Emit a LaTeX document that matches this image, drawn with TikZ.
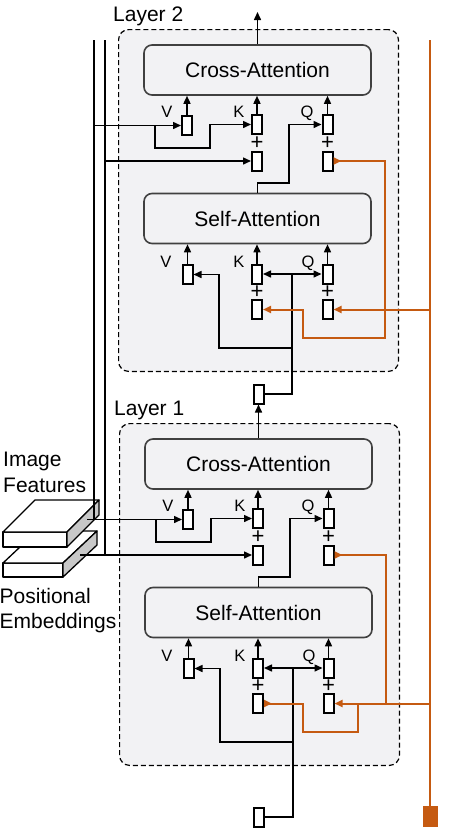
\documentclass[tikz,border=0pt]{standalone}
\usepackage{fontspec}
\setmainfont{Liberation Sans}
\usetikzlibrary{arrows.meta}

\definecolor{framefill}{HTML}{F2F2F4}
\definecolor{rust}{HTML}{C55A11}
\definecolor{boxedge}{HTML}{404040}
\definecolor{slabside}{HTML}{C8C8C8}

\tikzset{
  >={Triangle[length=8pt,width=7pt]},
  layerframe/.style={draw=black, line width=1.2pt, dash pattern=on 5pt off 3pt,
    fill=framefill, rounded corners=10pt, minimum width=279.8pt,
    minimum height=341.8pt, inner sep=0pt},
  layertitle/.style={font=\fontsize{21}{25}\selectfont, anchor=base west, inner sep=0pt},
  attn/.style={draw=boxedge, line width=1.6pt, fill=framefill, rounded corners=8pt,
    minimum width=227pt, minimum height=50pt, inner sep=0pt,
    font=\fontsize{21}{25}\selectfont},
  vec/.style={draw=black, line width=2pt, fill=white, minimum width=10pt,
    minimum height=19pt, inner sep=0pt},
  qkv/.style={font=\fontsize{16.5}{18}\selectfont, inner sep=0pt, anchor=base},
  plus/.style={font=\fontsize{22}{24}\selectfont, inner sep=0pt},
  conn/.style={line width=1.5pt, draw=black},
  trunk/.style={line width=2pt, draw=black},
  oline/.style={line width=2pt, draw=rust},
  slabface/.style={draw=black, line width=1.3pt, fill=white, line join=round},
  slabedge/.style={draw=black, line width=1.3pt, fill=slabside, line join=round},
  sidelabel/.style={font=\fontsize{21}{25}\selectfont, anchor=base west, inner sep=0pt},
}

% One transformer layer: #1 name prefix, #2/#3 shift, #4 title
\newcommand{\buildlayer}[4]{%
\begin{scope}[shift={(#2,#3)}]
  \node[layerframe] (#1frame) at (258.5,200.5) {};
  \node[layertitle] (#1title) at (113,21) {#4};
  \node[attn] (#1cross) at (257.5,70) {Cross-Attention};
  \node[attn] (#1self) at (257.5,218.5) {Self-Attention};
  % cross-attention inputs
  \node[vec] (#1cv) at (187,125.5) {};
  \node[vec] (#1ck) at (257,124.5) {};
  \node[vec] (#1cq) at (327.5,124.5) {};
  \node[vec] (#1ckl) at (257,161) {};
  \node[vec] (#1cql) at (327.5,161) {};
  \node[qkv] (#1cvt) at (167,117) {V};
  \node[qkv] (#1ckt) at (239,117) {K};
  \node[qkv] (#1cqt) at (307,117) {Q};
  \node[plus] (#1ckp) at (257,143) {+};
  \node[plus] (#1cqp) at (327.5,143) {+};
  % self-attention inputs
  \node[vec] (#1sv) at (187.5,274.5) {};
  \node[vec] (#1sk) at (257,274) {};
  \node[vec] (#1sq) at (327.5,274) {};
  \node[vec] (#1skl) at (257,309.5) {};
  \node[vec] (#1sql) at (327.5,309.5) {};
  \node[qkv] (#1svt) at (166,267) {V};
  \node[qkv] (#1skt) at (239,267) {K};
  \node[qkv] (#1sqt) at (308,267) {Q};
  \node[plus] (#1skp) at (257,292) {+};
  \node[plus] (#1sqp) at (327.5,292) {+};
  % projections into the attention blocks
  \foreach \v in {cv,ck,cq} \draw[conn,->] (#1\v.north) -- (#1\v.north |- #1cross.south);
  \foreach \v in {sv,sk,sq} \draw[conn,->] (#1\v.north) -- (#1\v.north |- #1self.south);
  % features feed both value and key
  \coordinate (#1vsplit) at (155,125.5);
  \draw[conn,->] (#1vsplit) |- (210,148) |- (#1ck.west);
  % self-attention output becomes the cross-attention query
  \draw[conn,->] (#1self.north) |- (289,183) |- (#1cq.west);
  % layer input shared by V, K and Q
  \coordinate (#1hub) at (292,274);
  \coordinate (#1vb) at (292,348);
  \draw[conn,->] (#1hub) -- (#1sk.east);
  \draw[conn,->] (#1hub) -- (#1sq.west);
  \draw[conn,->] (#1vb) -- (219,348) |- (#1sv.east);
\end{scope}}

\begin{document}
\begin{tikzpicture}[x=1pt,y=-1pt]
  \useasboundingbox (0,0) rectangle (449,833);

  \buildlayer{L2}{0}{0}{Layer 2}
  \buildlayer{L1}{1}{394}{Layer 1}

  % stacked feature slabs
  \draw[slabface] (3,563) rectangle (63,577);
  \draw[slabface] (3,563) -- (37,531) -- (97,531) -- (63,563) -- cycle;
  \draw[slabedge] (63,563) -- (97,531) -- (97,545) -- (63,577) -- cycle;
  \draw[slabface] (3,532) rectangle (67,547);
  \draw[slabface] (3,532) -- (35,500) -- (99,500) -- (67,532) -- cycle;
  \draw[slabedge] (67,532) -- (99,500) -- (99,515) -- (67,547) -- cycle;

  \node[sidelabel] (imgA) at (3,466) {Image};
  \node[sidelabel] (imgB) at (3,492) {Features};
  \node[sidelabel] (posA) at (-0.5,603) {Positional};
  \node[sidelabel] (posB) at (-0.5,628) {Embeddings};

  % feature and positional trunks
  \coordinate (ftop) at (94,40);
  \coordinate (ptop) at (105,40);
  \coordinate (feat1) at (87,519.5);
  \coordinate (pos1) at (80,555);
  \coordinate (feat2) at (94,125.5);
  \coordinate (pos2) at (105,161);
  \draw[trunk] (ftop) -- (ftop |- feat1);
  \draw[trunk] (ptop) -- (ptop |- pos1);
  \draw[conn,->] (feat2) -- (L2cv.west);
  \draw[conn,->] (pos2) -- (L2ckl.west);
  \draw[conn,->] (feat1) -- (L1cv.west);
  \draw[conn,->] (pos1) -- (L1ckl.west);

  % layer input, hand-over and output
  \node[vec] (inbox) at (258.5,817) {};
  \node[vec] (midbox) at (258.5,394) {};
  \coordinate (out) at (257.5,12);
  \draw[conn] (inbox.east) -| (L1hub);
  \draw[conn,->] (L1cross.north) -- (midbox.south);
  \draw[conn] (midbox.east) -| (L2hub);
  \draw[conn,->] (L2cross.north) -- (out);

  % query positional signal
  \coordinate (otop) at (430,40);
  \node[fill=rust, minimum width=15pt, minimum height=21pt, inner sep=0pt] (obox) at (430.5,816.5) {};
  \draw[oline] (otop) -- (otop |- obox.north);
  \coordinate (j2) at (430,309.5);
  \coordinate (j1) at (430,703.5);
  \draw[oline,->] (j2) -- (L2sql.east);
  \draw[oline,{>}-{>}] (L2cql.east) -| (385,338) -| (303,309.5) -- (L2skl.east);
  \draw[oline,->] (j1) -- (L1sql.east);
  \draw[oline,{>}-] (L1cql.east) -| (386,703.5);
  \draw[oline,{>}-] (L1skl.east) -- (303,703.5) |- (358,732) -- (358,703.5);
\end{tikzpicture}
\end{document}
